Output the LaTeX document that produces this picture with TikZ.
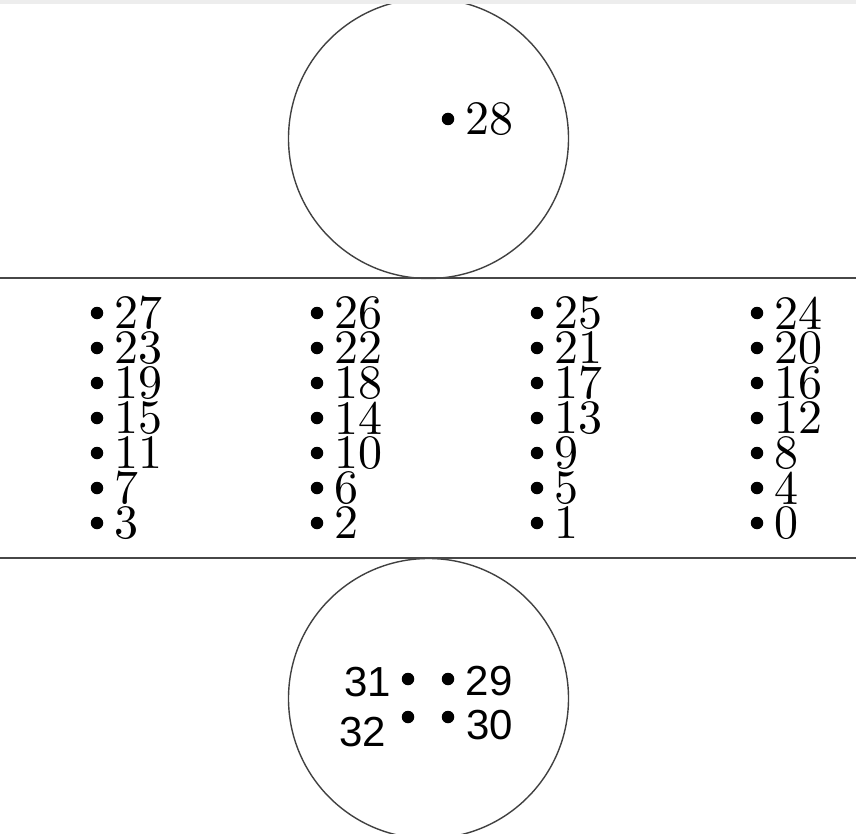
\documentclass[tikz,border=0pt]{standalone}
\usepackage{fontspec}
\newfontfamily\arialfont{Liberation Sans}
\newfontfamily\cmfont{lmroman10-regular.otf}
\usetikzlibrary{positioning}
\tikzset{
    dot/.style={circle, fill=black, inner sep=0pt, minimum size=12.5pt},
    num/.style={inner sep=0pt, font=\cmfont\fontsize{48}{48}\selectfont},
    snum/.style={inner sep=0pt, font=\arialfont\fontsize{42}{42}\selectfont},
    rim/.style={draw=black!75, line width=1.4pt},
    edge/.style={draw=black!72, line width=2.3pt}
}
\begin{document}
\begin{tikzpicture}[x=1pt, y=-1pt]
    \clip (0,0) rectangle (856,834);
    \coordinate (TL) at (0,278);
    \coordinate (TR) at (856,278);
    \coordinate (BL) at (0,558);
    \coordinate (BR) at (856,558);

    \draw[rim] (428.5,138.5) circle [radius=140pt];
    \draw[rim] (428.5,698.5) circle [radius=140pt];
    \fill[black!7] (0,0) rectangle (856,4);
    \draw[edge] (TL) -- (TR);
    \draw[edge] (BL) -- (BR);

    % the 7 x 4 block
    \foreach \n in {0,...,27} {
        \pgfmathtruncatemacro\col{mod(\n,4)}
        \pgfmathtruncatemacro\row{div(\n,4)}
        \node[dot] (d\n) at ({757-220*\col}, {523-35*\row}) {};
        \node[num, right=11pt of d\n] (l\n) {\n};
    }

    \node[dot] (d28) at (448,119) {};
    \node[num, right=11pt of d28] (l28) {28};

    \node[dot] (d29) at (448,679) {};
    \node[dot] (d30) at (448,717) {};
    \node[dot] (d31) at (408,679) {};
    \node[dot] (d32) at (408,717) {};
    \node[snum, right=11pt of d29, yshift=-2pt] (l29) {29};
    \node[snum, right=11.5pt of d30, yshift=-8.5pt] (l30) {30};
    \node[snum, left=10pt of d31, yshift=-3pt] (l31) {31};
    \node[snum, left=15pt of d32, yshift=-15pt] (l32) {32};
\end{tikzpicture}
\end{document}
